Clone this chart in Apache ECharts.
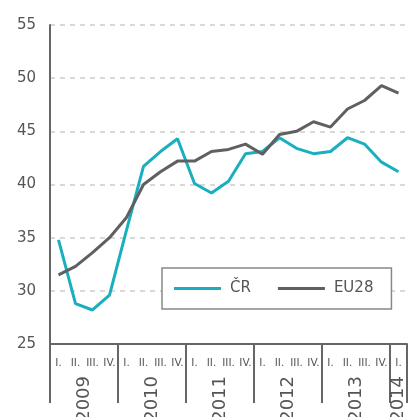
<!DOCTYPE html>
<html>
<head>
<meta charset="utf-8">
<script src="https://cdn.jsdelivr.net/npm/echarts@6/dist/echarts.min.js"></script>
<style>
  html, body { margin: 0; padding: 0; background: #fff; }
  #chart { width: 419px; height: 417px; }
</style>
</head>
<body>
<div id="chart"></div>
<script>
// quarters 2009 I. .. 2014 I.
const quarters = [
    '2009 I.', '2009 II.', '2009 III.', '2009 IV.',
    '2010 I.', '2010 II.', '2010 III.', '2010 IV.',
    '2011 I.', '2011 II.', '2011 III.', '2011 IV.',
    '2012 I.', '2012 II.', '2012 III.', '2012 IV.',
    '2013 I.', '2013 II.', '2013 III.', '2013 IV.',
    '2014 I.'
];
const years = ['2009', '2010', '2011', '2012', '2013', '2014'];
const yearBounds = [0, 4, 8, 12, 16, 20, 21];   // category index where each year starts
const yearCenters = [2, 6, 10, 14, 18, 20.5];

const crValues = [34.8, 28.8, 28.2, 29.6, 35.7, 41.7, 43.1, 44.3, 40.1, 39.2, 40.3,
    42.9, 43.1, 44.4, 43.4, 42.9, 43.1, 44.4, 43.8, 42.1, 41.2];
const euValues = [31.5, 32.3, 33.6, 35.0, 36.9, 40.0, 41.2, 42.2, 42.2, 43.1, 43.3,
    43.8, 42.85, 44.7, 45.0, 45.9, 45.4, 47.1, 47.9, 49.3, 48.6];

const font = 'DejaVu Sans';
const axisGray = '#666';
const textGray = '#555';

const myChart = echarts.init(document.getElementById('chart'));

const option = {
    animation: false,
    textStyle: { fontFamily: font },
    // year labels run off the bottom edge like in the original, so don't let the grid shrink
    grid: { left: 50, right: 12, top: 25, bottom: 73, outerBoundsMode: 'none' },
    legend: {
        left: 162,
        top: 268,
        icon: 'rect',
        itemWidth: 47,
        itemHeight: 3,
        itemGap: 27,
        padding: [13, 18, 13, 12],
        borderColor: '#888',
        borderWidth: 1.5,
        backgroundColor: '#fff',
        textStyle: { fontFamily: font, fontSize: 15, color: textGray, padding: [0, 0, 0, 4] },
        data: ['ČR', 'EU28']
    },
    xAxis: [
        {
            type: 'category',
            data: quarters,
            boundaryGap: true,
            axisLine: { lineStyle: { color: axisGray, width: 2 } },
            axisTick: { length: 7, lineStyle: { color: axisGray, width: 2 } },
            axisLabel: {
                interval: 0,
                margin: 14,
                fontSize: 10.5,
                color: textGray,
                formatter: v => v.split(' ')[1]
            },
            splitLine: { show: false }
        },
        {
            type: 'value',
            min: 0,
            max: 21,
            position: 'bottom',
            axisLine: { show: false },
            axisTick: {
                show: true,
                customValues: yearBounds,
                length: 59,
                lineStyle: { color: axisGray, width: 2 }
            },
            axisLabel: {
                customValues: yearCenters,
                rotate: 90,
                margin: 32,
                fontSize: 18,
                color: textGray,
                formatter: v => years[yearCenters.indexOf(v)] || ''
            },
            splitLine: { show: false }
        }
    ],
    yAxis: {
        type: 'value',
        min: 25,
        max: 55,
        interval: 5,
        axisLine: { show: true, lineStyle: { color: axisGray, width: 2 } },
        axisTick: { show: false },
        axisLabel: { margin: 14, fontSize: 15, color: textGray },
        splitLine: { lineStyle: { color: '#ccc', type: [5, 5], width: 1.5 } }
    },
    series: [
        {
            name: 'ČR',
            type: 'line',
            data: crValues,
            symbol: 'none',
            lineStyle: { color: '#19AFBF', width: 3 },
            itemStyle: { color: '#19AFBF' }
        },
        {
            name: 'EU28',
            type: 'line',
            data: euValues,
            symbol: 'none',
            lineStyle: { color: '#606060', width: 3 },
            itemStyle: { color: '#606060' }
        }
    ]
};
myChart.setOption(option);
</script>
</body>
</html>
